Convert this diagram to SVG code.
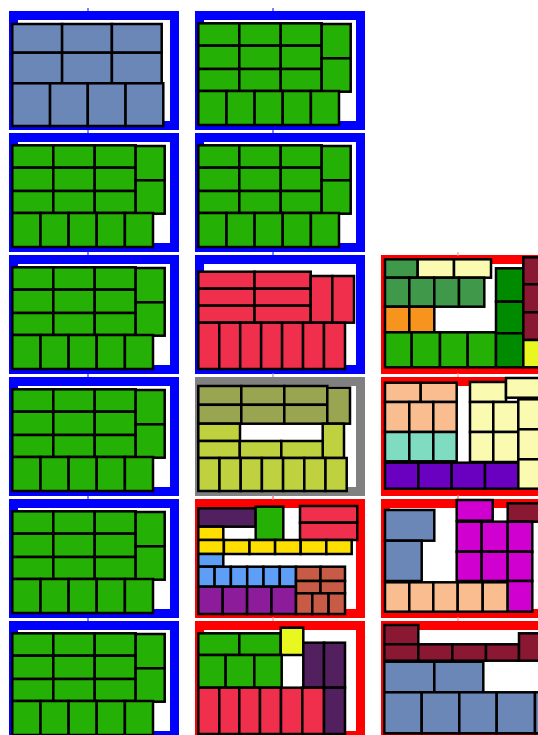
<svg xmlns="http://www.w3.org/2000/svg" xmlns:xlink="http://www.w3.org/1999/xlink" width="538" height="735" viewBox="0 0 538 735">
<style>
.fr{fill:#fff;stroke-width:9}
.fb{stroke:#0000ff}.fg{stroke:#808080}.frd{stroke:#ff0000}
.tk{stroke-width:1}
.bx rect{stroke:#000;stroke-width:2.5}
.sb{fill:#6a87b8}.gr{fill:#24b005}.rd{fill:#ef2f4b}.ol{fill:#9aa552}.lo{fill:#bfd13f}
.dp{fill:#52205e}.ye{fill:#ffdf00}.lb{fill:#5f9ef7}.pu{fill:#8c1c9a}.br{fill:#c85b46}
.dg{fill:#40994a}.py{fill:#fafab0}.or{fill:#f7941d}.dk{fill:#008a00}.ma{fill:#8b1832}
.ly{fill:#e9f720}.pe{fill:#f9bd90}.te{fill:#80dcc0}.vi{fill:#6a00c0}.mg{fill:#d000d0}
</style>
<defs>
<g id="greenPack" class="bx">
<rect class="gr" x="3.3" y="12.3" width="41" height="22.4"/><rect class="gr" x="44.3" y="12.3" width="41.4" height="22.4"/><rect class="gr" x="85.7" y="12.3" width="41" height="22.4"/>
<rect class="gr" x="3.3" y="34.7" width="41" height="23.3"/><rect class="gr" x="44.3" y="34.7" width="41.4" height="23.3"/><rect class="gr" x="85.7" y="34.7" width="41" height="23.3"/>
<rect class="gr" x="3.3" y="58" width="41" height="22"/><rect class="gr" x="44.3" y="58" width="41.4" height="22"/><rect class="gr" x="85.7" y="58" width="41" height="22"/>
<rect class="gr" x="126.7" y="13" width="29" height="34.3"/><rect class="gr" x="126.7" y="47.3" width="29" height="33.4"/>
<rect class="gr" x="3.3" y="80" width="28.2" height="34"/><rect class="gr" x="31.5" y="80" width="28.1" height="34"/><rect class="gr" x="59.6" y="80" width="28.1" height="34"/><rect class="gr" x="87.7" y="80" width="28.2" height="34"/><rect class="gr" x="115.9" y="80" width="28.1" height="34"/>
</g>
</defs>

<!-- Column 1 -->
<g id="p11" transform="translate(9,11)">
<rect class="fr fb" x="4.5" y="4.5" width="161" height="110"/>
<line class="tk" stroke="#0000ff" x1="79" y1="-3" x2="79" y2="1"/><line class="tk" stroke="#0000ff" x1="79" y1="118" x2="79" y2="122"/>
<g class="bx">
<rect class="sb" x="3.3" y="13" width="49.8" height="28.7"/><rect class="sb" x="53.1" y="13" width="49.8" height="28.7"/><rect class="sb" x="102.9" y="13" width="49.8" height="28.7"/>
<rect class="sb" x="3.3" y="41.7" width="49.8" height="30.6"/><rect class="sb" x="53.1" y="41.7" width="49.8" height="30.6"/><rect class="sb" x="102.9" y="41.7" width="49.8" height="30.6"/>
<rect class="sb" x="3.3" y="72.3" width="37.75" height="42.7"/><rect class="sb" x="41.05" y="72.3" width="37.75" height="42.7"/><rect class="sb" x="78.8" y="72.3" width="37.75" height="42.7"/><rect class="sb" x="116.55" y="72.3" width="37.75" height="42.7"/>
</g>
</g>
<g id="p12" transform="translate(9,133)">
<rect class="fr fb" x="4.5" y="4.5" width="161" height="110"/>
<line class="tk" stroke="#0000ff" x1="79" y1="118" x2="79" y2="122"/>
<use xlink:href="#greenPack"/>
</g>
<g id="p13" transform="translate(9,255)">
<rect class="fr fb" x="4.5" y="4.5" width="161" height="110"/>
<line class="tk" stroke="#0000ff" x1="79" y1="118" x2="79" y2="122"/>
<use xlink:href="#greenPack"/>
</g>
<g id="p14" transform="translate(9,377)">
<rect class="fr fb" x="4.5" y="4.5" width="161" height="110"/>
<line class="tk" stroke="#0000ff" x1="79" y1="118" x2="79" y2="122"/>
<use xlink:href="#greenPack"/>
</g>
<g id="p15" transform="translate(9,499)">
<rect class="fr fb" x="4.5" y="4.5" width="161" height="110"/>
<line class="tk" stroke="#0000ff" x1="79" y1="118" x2="79" y2="122"/>
<use xlink:href="#greenPack"/>
</g>
<g id="p16" transform="translate(9,621)">
<rect class="fr fb" x="4.5" y="4.5" width="161" height="110"/>
<use xlink:href="#greenPack"/>
</g>

<!-- Column 2 -->
<g id="p21" transform="translate(195,11)">
<rect class="fr fb" x="4.5" y="4.5" width="161" height="110"/>
<line class="tk" stroke="#0000ff" x1="78" y1="-3" x2="78" y2="1"/><line class="tk" stroke="#0000ff" x1="78" y1="118" x2="78" y2="122"/>
<use xlink:href="#greenPack"/>
</g>
<g id="p22" transform="translate(195,133)">
<rect class="fr fb" x="4.5" y="4.5" width="161" height="110"/>
<line class="tk" stroke="#0000ff" x1="78" y1="118" x2="78" y2="122"/>
<use xlink:href="#greenPack"/>
</g>
<g id="p23" transform="translate(195,255)">
<rect class="fr fb" x="4.5" y="4.5" width="161" height="110"/>
<line class="tk" stroke="#888" x1="78" y1="118" x2="78" y2="122"/>
<g class="bx">
<rect class="rd" x="3.3" y="16.7" width="56.2" height="17"/><rect class="rd" x="59.5" y="16.7" width="56.2" height="17"/>
<rect class="rd" x="3.3" y="33.7" width="56.2" height="17"/><rect class="rd" x="59.5" y="33.7" width="56.2" height="17"/>
<rect class="rd" x="3.3" y="50.7" width="56.2" height="17"/><rect class="rd" x="59.5" y="50.7" width="56.2" height="17"/>
<rect class="rd" x="115.7" y="21" width="21.6" height="46.7"/><rect class="rd" x="137.3" y="21" width="21.7" height="46.7"/>
<rect class="rd" x="3.3" y="67.7" width="20.95" height="46.3"/><rect class="rd" x="24.25" y="67.7" width="20.95" height="46.3"/><rect class="rd" x="45.2" y="67.7" width="20.95" height="46.3"/><rect class="rd" x="66.15" y="67.7" width="20.95" height="46.3"/><rect class="rd" x="87.1" y="67.7" width="20.95" height="46.3"/><rect class="rd" x="108.05" y="67.7" width="20.95" height="46.3"/><rect class="rd" x="129" y="67.7" width="21" height="46.3"/>
</g>
</g>
<g id="p24" transform="translate(195,377)">
<rect class="fr fg" x="4.5" y="4.5" width="161" height="110"/>
<line class="tk" stroke="#ff8080" x1="78" y1="118" x2="78" y2="122"/>
<g class="bx">
<rect class="ol" x="3.3" y="9" width="43" height="18.8"/><rect class="ol" x="46.3" y="9" width="43" height="18.8"/><rect class="ol" x="89.3" y="9" width="43" height="18.8"/>
<rect class="ol" x="3.3" y="27.8" width="43" height="18.9"/><rect class="ol" x="46.3" y="27.8" width="43" height="18.9"/><rect class="ol" x="89.3" y="27.8" width="43" height="18.9"/>
<rect class="ol" x="132.3" y="10.7" width="22.7" height="36"/>
<rect class="lo" x="3.3" y="46.7" width="41.7" height="17.3"/>
<rect class="lo" x="127.7" y="46.7" width="21.3" height="34.3"/>
<rect class="lo" x="3.3" y="64" width="41.5" height="17"/><rect class="lo" x="44.8" y="64" width="41.5" height="17"/><rect class="lo" x="86.3" y="64" width="41.4" height="17"/>
<rect class="lo" x="3.3" y="81" width="21.2" height="33"/><rect class="lo" x="24.5" y="81" width="21.2" height="33"/><rect class="lo" x="45.7" y="81" width="21.2" height="33"/><rect class="lo" x="66.9" y="81" width="21.2" height="33"/><rect class="lo" x="88.1" y="81" width="21.2" height="33"/><rect class="lo" x="109.3" y="81" width="21.2" height="33"/><rect class="lo" x="130.5" y="81" width="21.2" height="33"/>
</g>
</g>
<g id="p25" transform="translate(195,499)">
<rect class="fr frd" x="4.5" y="4.5" width="161" height="110"/>
<line class="tk" stroke="#ff8080" x1="78" y1="-3" x2="78" y2="1"/><line class="tk" stroke="#ff8080" x1="78" y1="118" x2="78" y2="122"/>
<g class="bx">
<rect class="dp" x="3.3" y="9.3" width="57.4" height="18.4"/>
<rect class="gr" x="60.7" y="7.7" width="27.6" height="33.3"/>
<rect class="rd" x="105" y="7" width="57.3" height="16.7"/><rect class="rd" x="105" y="23.7" width="57.3" height="17.3"/>
<rect class="ye" x="3.3" y="27.7" width="25" height="13.3"/>
<rect class="ye" x="3.3" y="41" width="25.6" height="14"/><rect class="ye" x="28.9" y="41" width="25.6" height="14"/><rect class="ye" x="54.5" y="41" width="25.6" height="14"/><rect class="ye" x="80.1" y="41" width="25.6" height="14"/><rect class="ye" x="105.7" y="41" width="25.6" height="14"/><rect class="ye" x="131.3" y="41" width="25.4" height="14"/>
<rect class="lb" x="3.3" y="55" width="25" height="12.7"/>
<rect class="lb" x="3.3" y="67.7" width="16.3" height="20"/><rect class="lb" x="19.6" y="67.7" width="16.3" height="20"/><rect class="lb" x="35.9" y="67.7" width="16.3" height="20"/><rect class="lb" x="52.2" y="67.7" width="16.3" height="20"/><rect class="lb" x="68.5" y="67.7" width="16.3" height="20"/><rect class="lb" x="84.8" y="67.7" width="16.2" height="20"/>
<rect class="pu" x="3.3" y="87.7" width="24.4" height="27.3"/><rect class="pu" x="27.7" y="87.7" width="24.4" height="27.3"/><rect class="pu" x="52.1" y="87.7" width="24.4" height="27.3"/><rect class="pu" x="76.5" y="87.7" width="24.5" height="27.3"/>
<rect class="br" x="101" y="67.7" width="24.5" height="14.3"/><rect class="br" x="125.5" y="67.7" width="24.5" height="14.3"/>
<rect class="br" x="101" y="82" width="24.5" height="12.3"/><rect class="br" x="125.5" y="82" width="24.5" height="12.3"/>
<rect class="br" x="101" y="94.3" width="16.3" height="20.7"/><rect class="br" x="117.3" y="94.3" width="16.3" height="20.7"/><rect class="br" x="133.6" y="94.3" width="16.4" height="20.7"/>
</g>
</g>
<g id="p26" transform="translate(195,621)">
<rect class="fr frd" x="4.5" y="4.5" width="161" height="110"/>
<g class="bx">
<rect class="gr" x="3.3" y="12.3" width="41" height="21.7"/><rect class="gr" x="44.3" y="12.3" width="41.4" height="21.7"/>
<rect class="ly" x="85.7" y="6.7" width="22.6" height="27.3"/>
<rect class="gr" x="3.3" y="34" width="27.4" height="32.7"/><rect class="gr" x="30.7" y="34" width="28.6" height="32.7"/><rect class="gr" x="59.3" y="34" width="27.4" height="32.7"/>
<rect class="dp" x="108.3" y="21.7" width="20.7" height="45"/><rect class="dp" x="129" y="21.7" width="21" height="45"/>
<rect class="rd" x="3.3" y="66.7" width="21" height="46.3"/><rect class="rd" x="24.3" y="66.7" width="20" height="46.3"/><rect class="rd" x="44.3" y="66.7" width="20.7" height="46.3"/><rect class="rd" x="65" y="66.7" width="21" height="46.3"/><rect class="rd" x="86" y="66.7" width="21.3" height="46.3"/><rect class="rd" x="107.3" y="66.7" width="21.7" height="46.3"/>
<rect class="dp" x="129" y="66.7" width="21" height="46.3"/>
</g>
</g>

<!-- Column 3 -->
<g id="p33" transform="translate(381,255)">
<rect class="fr frd" x="4.5" y="4.5" width="161" height="110"/>
<line class="tk" stroke="#ff8080" x1="77" y1="-3" x2="77" y2="1"/><line class="tk" stroke="#ff8080" x1="77" y1="118" x2="77" y2="122"/>
<g class="bx">
<rect class="dg" x="4" y="4.3" width="32.7" height="18.4"/>
<rect class="py" x="36.7" y="4.3" width="36.3" height="18.4"/><rect class="py" x="73" y="4.3" width="37" height="18.4"/>
<rect class="dg" x="4" y="22.7" width="24.3" height="29"/><rect class="dg" x="28.3" y="22.7" width="25" height="29"/><rect class="dg" x="53.3" y="22.7" width="24.7" height="29"/><rect class="dg" x="78" y="22.7" width="25.3" height="29"/>
<rect class="or" x="4" y="51.7" width="24.3" height="25.6"/><rect class="or" x="28.3" y="51.7" width="25" height="25.6"/>
<rect class="gr" x="4" y="77.3" width="26.7" height="35"/><rect class="gr" x="30.7" y="77.3" width="28.3" height="35"/><rect class="gr" x="59" y="77.3" width="27.7" height="35"/><rect class="gr" x="86.7" y="77.3" width="28.3" height="35"/>
<rect class="dk" x="115" y="13.3" width="27.3" height="33.4"/><rect class="dk" x="115" y="46.7" width="27.3" height="31.6"/><rect class="dk" x="115" y="78.3" width="27.3" height="34"/>
<rect class="ma" x="142.3" y="2.3" width="24" height="27"/><rect class="ma" x="142.3" y="29.3" width="24" height="28"/><rect class="ma" x="142.3" y="57.3" width="24" height="27.7"/>
<rect class="ly" x="142.3" y="85" width="24" height="27.3"/>
</g>
</g>
<g id="p34" transform="translate(381,377)">
<rect class="fr frd" x="4.5" y="4.5" width="161" height="110"/>
<line class="tk" stroke="#ff8080" x1="77" y1="118" x2="77" y2="122"/>
<g class="bx">
<rect class="pe" x="4" y="5.7" width="35.7" height="19.3"/><rect class="pe" x="39.7" y="5.7" width="36" height="19.3"/>
<rect class="pe" x="4" y="25" width="24.3" height="30"/><rect class="pe" x="28.3" y="25" width="24" height="30"/><rect class="pe" x="52.3" y="25" width="23.4" height="30"/>
<rect class="te" x="4" y="55" width="24.3" height="29.3"/><rect class="te" x="28.3" y="55" width="24" height="29.3"/><rect class="te" x="52.3" y="55" width="23.4" height="29.3"/>
<rect class="vi" x="4" y="85.7" width="33.3" height="26"/><rect class="vi" x="37.3" y="85.7" width="33.4" height="26"/><rect class="vi" x="70.7" y="85.7" width="33.3" height="26"/><rect class="vi" x="104" y="85.7" width="33.3" height="26"/>
<rect class="py" x="89" y="5" width="36" height="20"/>
<rect class="py" x="89" y="25" width="23.3" height="30"/><rect class="py" x="112.3" y="25" width="25" height="30"/>
<rect class="py" x="89" y="55" width="23.3" height="30"/><rect class="py" x="112.3" y="55" width="25" height="30"/>
<rect class="py" x="137.3" y="22.3" width="28" height="30"/><rect class="py" x="137.3" y="52.3" width="28" height="30"/><rect class="py" x="137.3" y="82.3" width="28" height="29.4"/>
<rect class="py" x="125" y="1" width="40" height="19.7"/>
</g>
</g>
<g id="p35" transform="translate(381,499)">
<rect class="fr frd" x="4.5" y="4.5" width="161" height="110"/>
<line class="tk" stroke="#ff8080" x1="77" y1="-3" x2="77" y2="1"/><line class="tk" stroke="#ff8080" x1="77" y1="118" x2="77" y2="122"/>
<g class="bx">
<rect class="sb" x="4" y="11" width="49.3" height="30.7"/>
<rect class="sb" x="4" y="41.7" width="36.7" height="40.3"/>
<rect class="mg" x="75.7" y="1" width="36" height="20.7"/>
<rect class="ma" x="126.7" y="4.3" width="40" height="18.4"/>
<rect class="mg" x="75.7" y="22.7" width="25" height="30"/><rect class="mg" x="100.7" y="22.7" width="26" height="30"/><rect class="mg" x="126.7" y="22.7" width="24.6" height="30"/>
<rect class="mg" x="75.7" y="52.7" width="25" height="29.3"/><rect class="mg" x="100.7" y="52.7" width="26" height="29.3"/><rect class="mg" x="126.7" y="52.7" width="24.6" height="29.3"/>
<rect class="pe" x="4" y="83.3" width="24.3" height="29.4"/><rect class="pe" x="28.3" y="83.3" width="24" height="29.4"/><rect class="pe" x="52.3" y="83.3" width="24.4" height="29.4"/><rect class="pe" x="76.7" y="83.3" width="25" height="29.4"/><rect class="pe" x="101.7" y="83.3" width="25" height="29.4"/>
<rect class="mg" x="126.7" y="82" width="24.6" height="30.7"/>
</g>
</g>
<g id="p36" transform="translate(381,621)">
<rect class="fr frd" x="4.5" y="4.5" width="161" height="110"/>
<g class="bx">
<rect class="ma" x="3.3" y="4" width="34" height="19.3"/>
<rect class="ma" x="3.3" y="23.3" width="34" height="16.4"/><rect class="ma" x="37.3" y="23.3" width="34" height="16.4"/><rect class="ma" x="71.3" y="23.3" width="33.7" height="16.4"/><rect class="ma" x="105" y="23.3" width="33" height="16.4"/>
<rect class="ma" x="138" y="12.3" width="28" height="27.4"/>
<rect class="sb" x="3.3" y="40.7" width="50" height="30.6"/><rect class="sb" x="53.3" y="40.7" width="49" height="30.6"/>
<rect class="sb" x="3.3" y="71.3" width="37.4" height="41"/><rect class="sb" x="40.7" y="71.3" width="37.6" height="41"/><rect class="sb" x="78.3" y="71.3" width="37.4" height="41"/><rect class="sb" x="115.7" y="71.3" width="38.3" height="41"/>
<rect class="sb" x="154" y="71.3" width="12" height="41"/>
</g>
</g>
</svg>
